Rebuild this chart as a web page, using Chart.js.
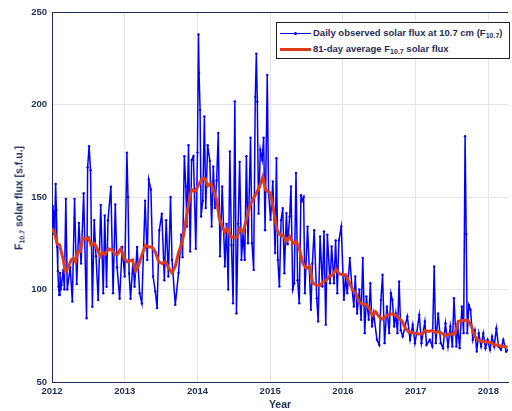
<!DOCTYPE html>
<html>
<head>
<meta charset="utf-8">
<script src="https://cdn.jsdelivr.net/npm/chart.js@4.4.0/dist/chart.umd.min.js"></script>
<style>
  html, body { margin: 0; padding: 0; background: #fff; }
  #wrap { position: relative; width: 512px; height: 411px; overflow: hidden; font-family: "Liberation Sans", Arial, sans-serif; }
  #legend { position: absolute; left: 276px; top: 22px; width: 232px; height: 35px; border: 1.3px solid #222; background: #fff; color: #1f2d5c; font-weight: bold; font-size: 9.5px; }
  #legend .row { position: absolute; left: 0; height: 14px; white-space: nowrap; }
  #legend .swatch { position: absolute; left: 3px; width: 31px; }
  #legend .dot { position: absolute; left: 17px; top: 6px; width: 3px; height: 3px; border-radius: 50%; background: #0000ff; }
  #legend .txt { position: absolute; left: 36px; top: 0; line-height: 14px; }
  sub { font-size: 7px; vertical-align: -2px; }
  #ytitle { position: absolute; left: 19px; top: 198px; transform: translate(-50%, -50%) rotate(-90deg); white-space: nowrap; color: #1f2d5c; font-weight: bold; font-size: 10.5px; }
</style>
</head>
<body>
<div id="wrap">
  <canvas id="chart" width="512" height="411"></canvas>
  <div id="legend">
    <div class="row" style="top:3px">
      <div class="swatch" style="top:7px;border-top:1.2px solid #0000ff"></div>
      <div class="dot"></div>
      <div class="txt">Daily observed solar flux at 10.7 cm (F<sub>10.7</sub>)</div>
    </div>
    <div class="row" style="top:19px">
      <div class="swatch" style="top:6px;border-top:3px solid #dc3c19"></div>
      <div class="txt">81-day average F<sub>10.7</sub> solar flux</div>
    </div>
  </div>
  <div id="ytitle">F<sub>10.7</sub> solar flux [s.f.u.]</div>
</div>
<script>
const dailyYears = [
  2012.0, 2012.01, 2012.02, 2012.03, 2012.04, 2012.05, 2012.06, 2012.07, 2012.08, 2012.09,
  2012.10, 2012.11, 2012.12, 2012.13, 2012.155, 2012.17, 2012.19,
  2012.21, 2012.25, 2012.28, 2012.31, 2012.34, 2012.37, 2012.40, 2012.435, 2012.475, 2012.49, 2012.51,
  2012.53, 2012.555, 2012.58, 2012.605, 2012.635, 2012.67, 2012.705, 2012.725, 2012.75, 2012.77,
  2012.81, 2012.84, 2012.87, 2012.895, 2012.93, 2012.965, 2013.0, 2013.03, 2013.045, 2013.06, 2013.08,
  2013.115, 2013.135, 2013.17, 2013.205, 2013.235, 2013.28, 2013.31, 2013.33, 2013.36, 2013.39,
  2013.42, 2013.445, 2013.475, 2013.51, 2013.545, 2013.57, 2013.6, 2013.63, 2013.65, 2013.695,
  2013.74, 2013.777, 2013.795, 2013.82, 2013.84, 2013.855, 2013.877, 2013.9, 2013.92, 2013.945,
  2013.977, 2014.0, 2014.014, 2014.022, 2014.036, 2014.05, 2014.073, 2014.095, 2014.114, 2014.14, 2014.17,
  2014.195, 2014.218, 2014.24, 2014.264, 2014.286, 2014.31, 2014.34, 2014.377, 2014.4, 2014.423,
  2014.445, 2014.468, 2014.49, 2014.514, 2014.536, 2014.56, 2014.58, 2014.605, 2014.627, 2014.65,
  2014.673, 2014.695, 2014.73, 2014.75, 2014.773, 2014.795, 2014.81, 2014.823, 2014.84, 2014.864,
  2014.89, 2014.91, 2014.93, 2014.96, 2014.977, 2015.005, 2015.036, 2015.068, 2015.086, 2015.105,
  2015.127, 2015.15, 2015.173, 2015.195, 2015.223, 2015.24, 2015.268, 2015.286, 2015.31, 2015.33,
  2015.355, 2015.377, 2015.4, 2015.423, 2015.432, 2015.46, 2015.477, 2015.514, 2015.536, 2015.56,
  2015.58, 2015.605, 2015.64, 2015.66, 2015.686, 2015.718, 2015.74, 2015.764, 2015.786, 2015.823,
  2015.845, 2015.877, 2015.9, 2015.923, 2015.945, 2015.977, 2016.014, 2016.036, 2016.06, 2016.095,
  2016.127, 2016.15, 2016.17, 2016.195, 2016.227, 2016.25, 2016.273, 2016.3, 2016.323, 2016.355,
  2016.377, 2016.4, 2016.423, 2016.468, 2016.5, 2016.523, 2016.545, 2016.573, 2016.605, 2016.636,
  2016.66, 2016.68, 2016.705, 2016.727, 2016.75, 2016.773, 2016.795, 2016.823, 2016.855, 2016.886,
  2016.923, 2016.96, 2016.99, 2017.014, 2017.05, 2017.08, 2017.127, 2017.15, 2017.195, 2017.23,
  2017.255, 2017.277, 2017.31, 2017.345, 2017.377, 2017.41, 2017.445, 2017.477, 2017.505, 2017.527,
  2017.56, 2017.58, 2017.605, 2017.636, 2017.66, 2017.68, 2017.695, 2017.71, 2017.732, 2017.755,
  2017.786, 2017.814, 2017.84, 2017.868, 2017.9, 2017.93, 2017.96, 2017.99, 2018.023, 2018.05,
  2018.08, 2018.11, 2018.14, 2018.173, 2018.205, 2018.245, 2018.27
];
const dailyFlux = [
  134, 145, 142, 130, 140, 157, 143, 123, 110, 101.5,
  97, 109, 100, 102.5, 110.5, 100, 149,
  100, 112, 93.5, 149, 103, 136, 114, 152, 84.5, 166, 177.5,
  164.5, 90.7, 137.5, 118, 94.3, 145.7, 98, 140, 101.5, 137.5,
  155.6, 98, 146, 112, 95, 123, 107, 174, 150, 108.7, 95,
  116, 101.5, 123, 98, 92.5, 148, 116, 159.5, 154, 107,
  99, 90, 132, 141, 105, 137.5, 107, 150, 116, 91.7,
  109, 129.6, 117.5, 172, 155.7, 134, 178, 120.5, 170, 172,
  122, 174, 237.8, 217, 197, 139.5, 148, 193.6, 144, 178, 169.5,
  134, 166.5, 144, 159, 184.6, 118, 155.7, 112.5, 135.5, 100,
  174.6, 124, 92.6, 201.7, 87, 135.5, 169, 116, 130.5, 116,
  172, 125, 182, 125, 110.6, 204, 227.5, 201.5, 141, 175.6,
  170, 182, 132, 216, 153, 137.7, 158.4, 119.7, 171, 116,
  101.6, 137.5, 144, 108.8, 141.3, 124.5, 139.5, 155.7, 100, 103.4,
  163, 105, 92.6, 151, 147.6, 150, 98, 134, 112.5, 89,
  114, 132, 95.3, 82.7, 128.7, 101.6, 131.4, 81, 129.6, 103.4,
  123.3, 103.4, 126.5, 98, 126.5, 134, 94.4, 107, 98, 117,
  100, 90.8, 107, 87, 100, 83.6, 117, 76.4, 96.2, 83.6,
  103.4, 80, 87, 72.8, 70, 94.4, 108, 71, 90.8, 76.4,
  98, 94.4, 80, 87, 76.4, 104.3, 78, 74.6, 80, 85.4,
  72.8, 81, 71, 76.4, 86.3, 71, 82.7, 70, 72.8, 69.2,
  112.4, 71, 87, 71, 68.3, 81.7, 69.2, 80, 69.2, 95.3,
  69.2, 80, 68.3, 90.8, 76.4, 182.8, 130, 76.4, 91.7, 89,
  72.8, 78, 66.5, 76.4, 69.2, 76.4, 68.3, 72.8, 67.4, 74.6,
  69.2, 79, 69.2, 67.4, 72.8, 66.5, 67.4
];

// 81-day running average
const avgYears = [
  2012.0, 2012.036, 2012.068, 2012.105, 2012.15, 2012.182, 2012.218, 2012.264, 2012.295, 2012.323,
  2012.355, 2012.39, 2012.423, 2012.46, 2012.505, 2012.536, 2012.582, 2012.627, 2012.664, 2012.695,
  2012.732, 2012.777, 2012.823, 2012.868, 2012.9, 2012.945, 2012.99, 2013.036, 2013.105, 2013.15,
  2013.186, 2013.24, 2013.286, 2013.33, 2013.377, 2013.423, 2013.468, 2013.514, 2013.56, 2013.605,
  2013.65, 2013.695, 2013.74, 2013.777, 2013.81, 2013.855, 2013.9, 2013.923, 2013.968, 2014.014,
  2014.06, 2014.105, 2014.14, 2014.186, 2014.232, 2014.264, 2014.3, 2014.34, 2014.377, 2014.414,
  2014.46, 2014.505, 2014.55, 2014.582, 2014.627, 2014.673, 2014.718, 2014.764, 2014.81, 2014.855,
  2014.9, 2014.936, 2014.968, 2015.005, 2015.05, 2015.095, 2015.14, 2015.186, 2015.223, 2015.268,
  2015.314, 2015.36, 2015.405, 2015.45, 2015.495, 2015.54, 2015.586, 2015.632, 2015.677, 2015.723,
  2015.768, 2015.814, 2015.86, 2015.905, 2015.95, 2015.995, 2016.04, 2016.086, 2016.132, 2016.177,
  2016.223, 2016.268, 2016.314, 2016.36, 2016.405, 2016.45, 2016.495, 2016.54, 2016.586, 2016.632,
  2016.677, 2016.723, 2016.768, 2016.814, 2016.86, 2016.905, 2016.95, 2016.995, 2017.04, 2017.086,
  2017.132, 2017.177, 2017.223, 2017.268, 2017.314, 2017.36, 2017.405, 2017.45, 2017.495, 2017.54,
  2017.586, 2017.632, 2017.677, 2017.723, 2017.768, 2017.814, 2017.86, 2017.905, 2017.95, 2017.995,
  2018.04, 2018.086, 2018.132, 2018.177, 2018.223, 2018.264
];
const avgFlux = [
  133, 130.5, 125, 124, 117, 110, 111.5, 116, 117, 115,
  120.5, 120.5, 128, 127, 128, 124, 125, 121.5, 118, 120,
  119, 122, 121.5, 119, 119, 122, 117, 115, 116, 110,
  112.5, 119, 124, 123, 123, 120, 115, 114, 115, 111.5,
  109, 112.5, 120, 124, 129.5, 141, 151, 154, 153, 156.5,
  159.7, 160, 156, 157.5, 152, 148.5, 138.5, 134, 131, 133,
  128.5, 128, 128.5, 133, 131, 137.7, 145, 149, 152, 155.7,
  161, 154, 153, 152, 142, 132, 129.5, 128.7, 126, 128.7,
  125, 126, 121.5, 114, 111.5, 112.5, 103.4, 102.5, 102, 104,
  105, 107, 108, 111, 108.5, 108, 108, 104, 100, 98,
  93.5, 92, 92, 90, 86, 88, 85.4, 84, 85.4, 86.7,
  86.8, 86.3, 84.5, 82.7, 79, 77, 76.7, 76.4, 76, 76,
  77.8, 77.3, 77.8, 76.7, 77.3, 76.4, 75, 75.8, 76, 76,
  82.7, 83.2, 83.2, 83.2, 80, 74.6, 72.8, 71.9, 71.9, 71.3,
  71.3, 70, 70, 69.2, 69.2, 68.8
];

const yTicks = [50, 100, 150, 200, 250];

const navy = '#1f2d5c';
const gridCol = '#e4e4ee';

const toPoints = (xs, ys) => xs.map((x, i) => ({ x: x, y: ys[i] }));

// MATLAB-like box: top border line
const boxPlugin = {
  id: 'box',
  afterDraw(chart) {
    const a = chart.chartArea, ctx = chart.ctx;
    ctx.save();
    ctx.strokeStyle = navy;
    ctx.lineWidth = 1;
    ctx.beginPath();
    ctx.moveTo(a.left, a.top + 0.5);
    ctx.lineTo(a.right, a.top + 0.5);
    ctx.stroke();
    ctx.restore();
  }
};

let ctx = document.getElementById('chart').getContext('2d');
let chart = new Chart(ctx, {
  type: 'line',
  data: {
    datasets: [
      {
        label: '81-day average F10.7 solar flux',
        data: toPoints(avgYears, avgFlux),
        borderColor: '#dc3c19',
        borderWidth: 3,
        pointRadius: 0,
        tension: 0,
        order: 0
      },
      {
        label: 'Daily observed solar flux at 10.7 cm (F10.7)',
        data: toPoints(dailyYears, dailyFlux),
        borderColor: '#0000ff',
        borderWidth: 1.5,
        pointRadius: 1.2,
        pointBackgroundColor: '#0000ff',
        pointBorderWidth: 0,
        tension: 0,
        order: 1
      }
    ]
  },
  options: {
    responsive: false,
    animation: false,
    devicePixelRatio: 1,
    layout: { padding: { top: 12, right: 0, left: 0, bottom: 0 } },
    plugins: { legend: { display: false }, tooltip: { enabled: false } },
    scales: {
      x: {
        type: 'linear',
        min: 2012,
        max: 2018.27,
        afterFit: (s) => { s.height = 29; },
        grid: { color: gridCol, drawTicks: false },
        border: { display: true, color: navy, width: 1 },
        ticks: {
          stepSize: 1,
          includeBounds: false,
          padding: 4,
          color: navy,
          font: { family: 'Liberation Sans', weight: 'bold', size: 9.5 },
          callback: (v) => String(v)
        },
        title: {
          display: true,
          text: 'Year',
          color: navy,
          font: { family: 'Liberation Sans', weight: 'bold', size: 10.5 },
          padding: { top: 0, bottom: 0 }
        }
      },
      y: {
        min: 50,
        max: 250,
        afterFit: (s) => { s.width = 52; },
        afterBuildTicks: (s) => { s.ticks = yTicks.map(v => ({ value: v })); },
        grid: { color: gridCol, drawTicks: false },
        border: { display: true, color: navy, width: 1 },
        ticks: {
          padding: 5,
          color: navy,
          font: { family: 'Liberation Sans', weight: 'bold', size: 9.5 }
        }
      }
    }
  },
  plugins: [boxPlugin]
});
</script>
</body>
</html>
